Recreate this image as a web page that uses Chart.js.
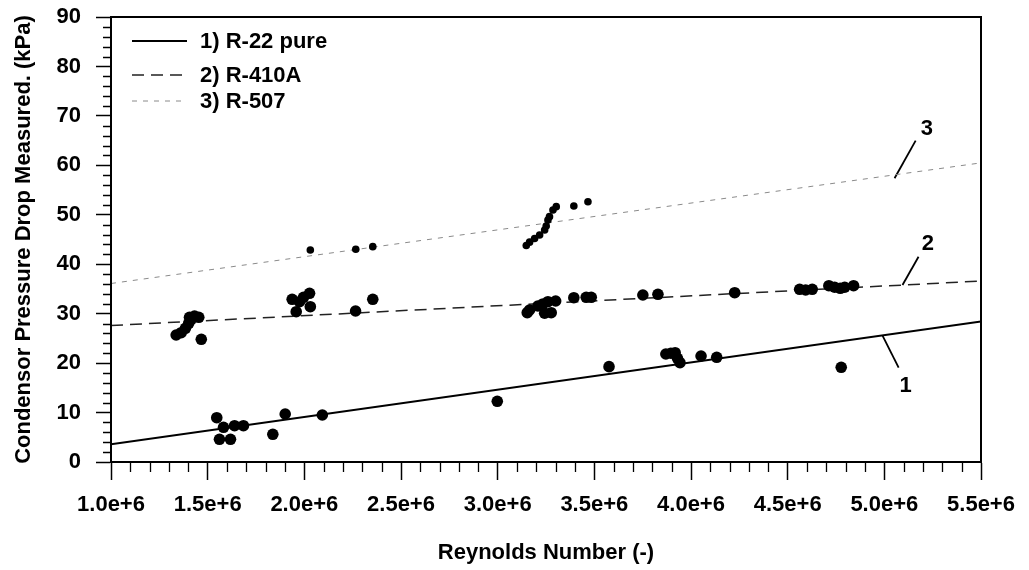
<!DOCTYPE html>
<html><head><meta charset="utf-8">
<script src="https://cdn.jsdelivr.net/npm/chart.js@4.4.0/dist/chart.umd.min.js"></script>
<style>html,body{margin:0;padding:0;background:#fff;}#wrap{width:1029px;height:570px;}</style>
</head><body><div id="wrap"><canvas id="c" width="1029" height="570"></canvas></div>
<script>
// ---- data ----
const xTickLabels = ['1.0e+6','1.5e+6','2.0e+6','2.5e+6','3.0e+6','3.5e+6','4.0e+6','4.5e+6','5.0e+6','5.5e+6'];
const yTickLabels = ['0','10','20','30','40','50','60','70','80','90'];

const r22X = [1.547e6,1.582e6,1.639e6,1.685e6,1.561e6,1.618e6,1.837e6,1.901e6,2.093e6,2.998e6,3.576e6,3.870e6,3.896e6,3.918e6,3.930e6,3.943e6,4.052e6,4.133e6,4.777e6];
const r22Y = [8.96,7.02,7.34,7.34,4.59,4.59,5.60,9.71,9.51,12.28,19.28,21.84,21.99,22.11,20.97,20.08,21.44,21.18,19.15];

const r410X = [1.337e6,1.363e6,1.385e6,1.402e6,1.415e6,1.432e6,1.454e6,1.406e6,1.467e6,1.937e6,1.958e6,1.975e6,1.996e6,2.027e6,2.031e6,2.265e6,2.354e6,3.153e6,3.165e6,3.208e6,3.234e6,3.260e6,3.300e6,3.243e6,3.277e6,3.394e6,3.458e6,3.484e6,3.751e6,3.829e6,4.226e6,4.562e6,4.593e6,4.627e6,4.713e6,4.743e6,4.772e6,4.795e6,4.841e6];
const r410Y = [25.69,26.15,27.04,28.05,28.86,29.53,29.27,29.27,24.82,32.91,30.40,32.42,33.31,34.12,31.41,30.54,32.91,30.20,30.74,31.55,31.96,32.42,32.56,30.08,30.20,33.23,33.31,33.31,33.78,33.92,34.24,34.93,34.79,34.93,35.66,35.34,35.13,35.34,35.66];

const r507X = [2.031e6,2.266e6,2.354e6,3.148e6,3.165e6,3.191e6,3.217e6,3.243e6,3.251e6,3.260e6,3.268e6,3.286e6,3.303e6,3.394e6,3.467e6];
const r507Y = [42.88,43.02,43.55,43.79,44.46,45.21,45.91,46.93,47.73,48.95,49.62,50.97,51.64,51.78,52.65];

const fitX = [1.0e6, 5.5e6];
const fit1Y = [3.6, 28.4];
const fit2Y = [27.6, 36.6];
const fit3Y = [36.1, 60.5];

const legendLabels = ['1) R-22 pure','2) R-410A','3) R-507'];
const curveLabels = ['1','2','3'];
const curveLabelX = [5.11e6, 5.225e6, 5.22e6];
const curveLabelY = [15.3, 44.1, 67.4];
const leader1X = [4.99e6, 5.074e6], leader1Y = [25.6, 19.1];
const leader2X = [5.094e6, 5.177e6], leader2Y = [35.8, 41.5];
const leader3X = [5.053e6, 5.162e6], leader3Y = [57.4, 65.0];

// ---- build ----
const zip = (xs, ys) => xs.map((x, i) => ({x: x, y: ys[i]}));
const FONT = {family: "'Liberation Sans', Arial, sans-serif", size: 22, weight: 'bold'};

const lineStyles = [
  {color: '#000', width: 2, dash: []},
  {color: '#222', width: 1.5, dash: [12, 7]},
  {color: '#8a8a8a', width: 1, dash: [5, 6]}
];

const datasets = [
  {label: 'R-22 pts', data: zip(r22X, r22Y), pointRadius: 5.8, backgroundColor: '#000', borderWidth: 0, showLine: false, order: 0},
  {label: 'R-410A pts', data: zip(r410X, r410Y), pointRadius: 5.8, backgroundColor: '#000', borderWidth: 0, showLine: false, order: 0},
  {label: 'R-507 pts', data: zip(r507X, r507Y), pointRadius: 3.8, backgroundColor: '#000', borderWidth: 0, showLine: false, order: 0},
  {label: legendLabels[0], data: zip(fitX, fit1Y), showLine: true, pointRadius: 0, borderColor: lineStyles[0].color, borderWidth: lineStyles[0].width, borderDash: lineStyles[0].dash, order: 1},
  {label: legendLabels[1], data: zip(fitX, fit2Y), showLine: true, pointRadius: 0, borderColor: lineStyles[1].color, borderWidth: lineStyles[1].width, borderDash: lineStyles[1].dash, order: 1},
  {label: legendLabels[2], data: zip(fitX, fit3Y), showLine: true, pointRadius: 0, borderColor: lineStyles[2].color, borderWidth: lineStyles[2].width, borderDash: lineStyles[2].dash, order: 1},
  {label: 'lead1', data: zip(leader1X, leader1Y), showLine: true, pointRadius: 0, borderColor: '#000', borderWidth: 1.8, order: 1},
  {label: 'lead2', data: zip(leader2X, leader2Y), showLine: true, pointRadius: 0, borderColor: '#000', borderWidth: 1.8, order: 1},
  {label: 'lead3', data: zip(leader3X, leader3Y), showLine: true, pointRadius: 0, borderColor: '#000', borderWidth: 1.8, order: 1}
];

const decor = {
  id: 'decor',
  afterDraw(chart) {
    const ctx = chart.ctx, a = chart.chartArea;
    const xs = chart.scales.x, ys = chart.scales.y;
    ctx.save();
    // frame
    ctx.strokeStyle = '#000'; ctx.lineWidth = 2; ctx.setLineDash([]);
    ctx.strokeRect(a.left, a.top, a.right - a.left, a.bottom - a.top);
    // minor ticks
    ctx.lineWidth = 1.3;
    ctx.beginPath();
    for (let v = 2; v < 90; v += 2) {
      if (v % 10 === 0) continue;
      const p = Math.round(ys.getPixelForValue(v)) + 0.5;
      ctx.moveTo(a.left - 8, p); ctx.lineTo(a.left, p);
    }
    for (let k = 11; k < 55; k++) {
      if (k % 5 === 0) continue;
      const p = Math.round(xs.getPixelForValue(k * 1e5)) + 0.5;
      ctx.moveTo(p, a.bottom); ctx.lineTo(p, a.bottom + 10);
    }
    ctx.stroke();
    // legend
    const rows = [41, 75, 101];
    ctx.font = "bold 22px 'Liberation Sans', Arial, sans-serif";
    ctx.textBaseline = 'middle'; ctx.textAlign = 'left'; ctx.fillStyle = '#000';
    for (let i = 0; i < 3; i++) {
      const st = lineStyles[i];
      ctx.strokeStyle = st.color; ctx.lineWidth = st.width; ctx.setLineDash(st.dash);
      ctx.beginPath(); ctx.moveTo(132, rows[i]); ctx.lineTo(187, rows[i]); ctx.stroke();
      ctx.fillText(legendLabels[i], 200, rows[i] + 1);
    }
    ctx.setLineDash([]);
    // curve labels
    ctx.textAlign = 'center';
    for (let i = 0; i < 3; i++) {
      ctx.fillText(curveLabels[i], xs.getPixelForValue(curveLabelX[i]), ys.getPixelForValue(curveLabelY[i]));
    }
    ctx.restore();
  }
};

new Chart(document.getElementById('c'), {
  type: 'scatter',
  data: {datasets},
  options: {
    responsive: false, animation: false,
    layout: {padding: {left: 0, right: 48, top: 17, bottom: 0}},
    plugins: {legend: {display: false}, tooltip: {enabled: false}},
    scales: {
      x: {
        type: 'linear', min: 1e6, max: 5.5e6,
        ticks: {stepSize: 5e5, autoSkip: false, maxRotation: 0, color: '#000', font: FONT, padding: 12,
          callback: v => xTickLabels[Math.round((v - 1e6) / 5e5)]},
        grid: {drawOnChartArea: false, drawTicks: true, tickLength: 18, tickColor: '#000', tickWidth: 1.5},
        border: {display: true, color: '#000', width: 2},
        title: {display: true, text: 'Reynolds Number (-)', color: '#000', font: FONT, padding: {top: 0, bottom: 4}},
        afterFit: s => { s.height = 108; }
      },
      y: {
        type: 'linear', min: 0, max: 90,
        ticks: {stepSize: 10, color: '#000', font: FONT, padding: 15,
          callback: v => yTickLabels[Math.round(v / 10)]},
        grid: {drawOnChartArea: false, drawTicks: true, tickLength: 15, tickColor: '#000', tickWidth: 1.5},
        border: {display: true, color: '#000', width: 2},
        title: {display: true, text: 'Condensor Pressure Drop Measured. (kPa)', color: '#000', font: FONT, padding: {top: 11, bottom: 0}},
        afterFit: s => { s.width = 111; s.paddingTop = 0; s.paddingBottom = 0; }
      }
    }
  },
  plugins: [decor]
});
</script>
</body></html>
